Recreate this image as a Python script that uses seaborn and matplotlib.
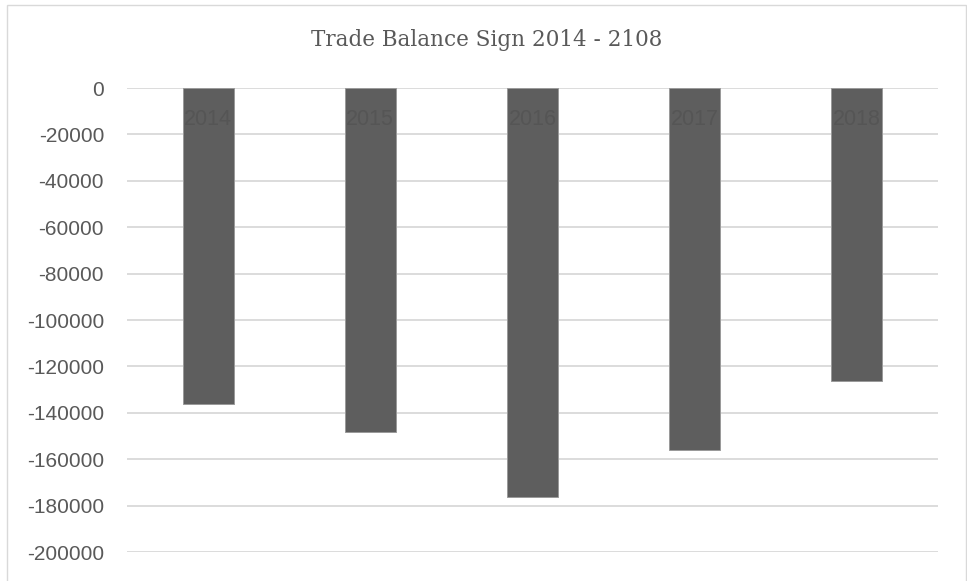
import matplotlib
matplotlib.use("Agg")
import matplotlib.pyplot as plt
import seaborn as sns
import pandas as pd
from matplotlib.patches import Rectangle

years = ["2014", "2015", "2016", "2017", "2018"]
balance = [-136200, -148300, -176500, -155900, -126400]
y_ticks = [0, -20000, -40000, -60000, -80000, -100000, -120000,
           -140000, -160000, -180000, -200000]
title = "Trade Balance Sign 2014 - 2108"

df = pd.DataFrame({"year": years, "balance": balance})

sns.set_theme(style="white")
plt.rcParams["font.family"] = ["Liberation Sans", "DejaVu Sans"]

W, H = 967, 581
fig = plt.figure(figsize=(W / 100, H / 100), dpi=100)
fig.patch.set_facecolor("white")

# outer chart border
fig.add_artist(Rectangle((7 / W, -0.05), (966 - 7) / W, 1.05 - 5 / H,
                         transform=fig.transFigure, fill=False,
                         edgecolor="#d9d9d9", linewidth=1.0))

left, right, top, bottom = 127, 938, 88, 552
ax = fig.add_axes([left / W, 1 - bottom / H, (right - left) / W, (bottom - top) / H])

sns.barplot(data=df, x="year", y="balance", ax=ax, color="#5e5e5e",
            saturation=1, width=0.315, edgecolor="#9a9a9a", linewidth=0.7)

ax.set_ylim(-200000, 0)
ax.set_xlim(-0.5, 4.5)
ax.set_yticks(y_ticks)
ax.set_yticklabels([str(v) for v in y_ticks])
ax.yaxis.grid(True, color="#d9d9d9", linewidth=1.3)
ax.set_axisbelow(True)
for s in ax.spines.values():
    s.set_visible(False)

ax.set_xticks([])
ax.tick_params(axis="y", length=0, labelsize=15, labelcolor="#595959", pad=16.5)
ax.set_xlabel("")
ax.set_ylabel("")

# category labels next to the zero line (Excel style), over the bars
for i, yr in enumerate(years):
    ax.annotate(yr, xy=(i, 0), xytext=(0, -23), textcoords="offset points",
                ha="center", va="center", fontsize=15.5, color="#555555",
                zorder=5)

fig.text(487 / W, 1 - 40 / H, title, ha="center", va="center",
         fontsize=15.5, color="#595959", family=["DejaVu Serif"])

fig.savefig("out.png", dpi=100, facecolor="white")
